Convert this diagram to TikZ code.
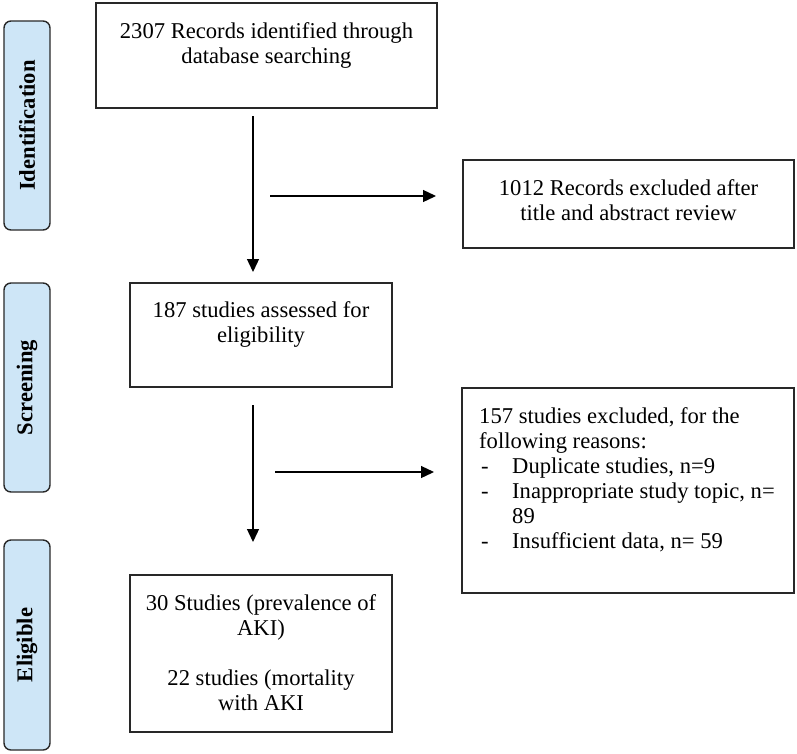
\documentclass[tikz,border=0pt]{standalone}
\usepackage{fontspec}
\setmainfont{Liberation Serif}
\usetikzlibrary{arrows.meta}
\definecolor{lblfill}{RGB}{206,230,247}
\definecolor{edge}{RGB}{40,40,40}
\tikzset{
  boxnode/.style={draw=edge, line width=1.3pt, minimum width=#1, inner sep=0pt},
  labelbox/.style={draw=edge, line width=1.4pt, fill=lblfill, rounded corners=7pt, inner sep=0pt, minimum width=46pt},
  labeltext/.style={font=\fontsize{22.6}{25}\selectfont\bfseries, rotate=90, inner sep=0pt},
  boxtext/.style={font=\fontsize{22.6}{25}\selectfont, inner sep=0pt, anchor=base},
  flow/.style={draw=black, line width=1.3pt, -{Triangle[length=13pt,width=12pt]}},
  plainline/.style={draw=black, line width=1.3pt}
}
\begin{document}
\begin{tikzpicture}[x=1pt,y=-1pt]
\useasboundingbox (0,0) rectangle (797,753);
% side labels
\node[labelbox, minimum height=209pt] (lid) at (27,125.5) {};
\node[labeltext] (tid) at (lid.center) {Identification};
\node[labelbox, minimum height=209pt] (lsc) at (27,387.5) {};
\node[labeltext] (tsc) at (lsc.center) {Screening};
\node[labelbox, minimum height=210pt] (lel) at (27,645) {};
\node[labeltext] (tel) at (lel.center) {Eligible};
% boxes
\node[boxnode=341pt, minimum height=105pt] (b1) at (266.5,55.5) {};
\node[boxtext, align=center] (t1) at (266.5,63) {2307 Records identified through\\database searching};
\node[boxnode=331pt, minimum height=88pt] (b2) at (628.5,204) {};
\node[boxtext, align=center] (t2) at (628.5,220) {1012 Records excluded after\\title and abstract review};
\node[boxnode=262pt, minimum height=104pt] (b3) at (261,335) {};
\node[boxtext, align=center] (t3) at (261,342) {187 studies assessed for\\eligibility};
\node[boxnode=332pt, minimum height=205pt] (b4) at (628,490.5) {};
\node[boxtext, align=left, anchor=base west] (t4) at (479,548) {157 studies excluded, for the\\following reasons:\\\makebox[33pt][l]{\hspace{2pt}-}Duplicate studies, n=9\\\makebox[33pt][l]{\hspace{2pt}-}Inappropriate study topic, n=\\\hspace*{33pt}89\\\makebox[33pt][l]{\hspace{2pt}-}Insufficient data, n= 59};
\node[boxnode=262pt, minimum height=157pt] (b5) at (261,653.5) {};
\node[boxtext, align=center] (t5) at (261,710) {30 Studies (prevalence of\\AKI)\\[25pt]22 studies (mortality\\with AKI};
% connectors
\coordinate (a1s) at (253,116);
\coordinate (a1e) at (253,272);
\coordinate (h1s) at (270,196);
\coordinate (h1e) at (436,196);
\coordinate (a2s) at (253,405);
\coordinate (a2e) at (253,542);
\coordinate (h2s) at (275,472);
\coordinate (h2e) at (434,472);
\draw[flow] (a1s) -- (a1e);
\draw[flow] (h1s) -- (h1e);
\draw[flow] (a2s) -- (a2e);
\draw[flow] (h2s) -- (h2e);
\end{tikzpicture}
\end{document}
